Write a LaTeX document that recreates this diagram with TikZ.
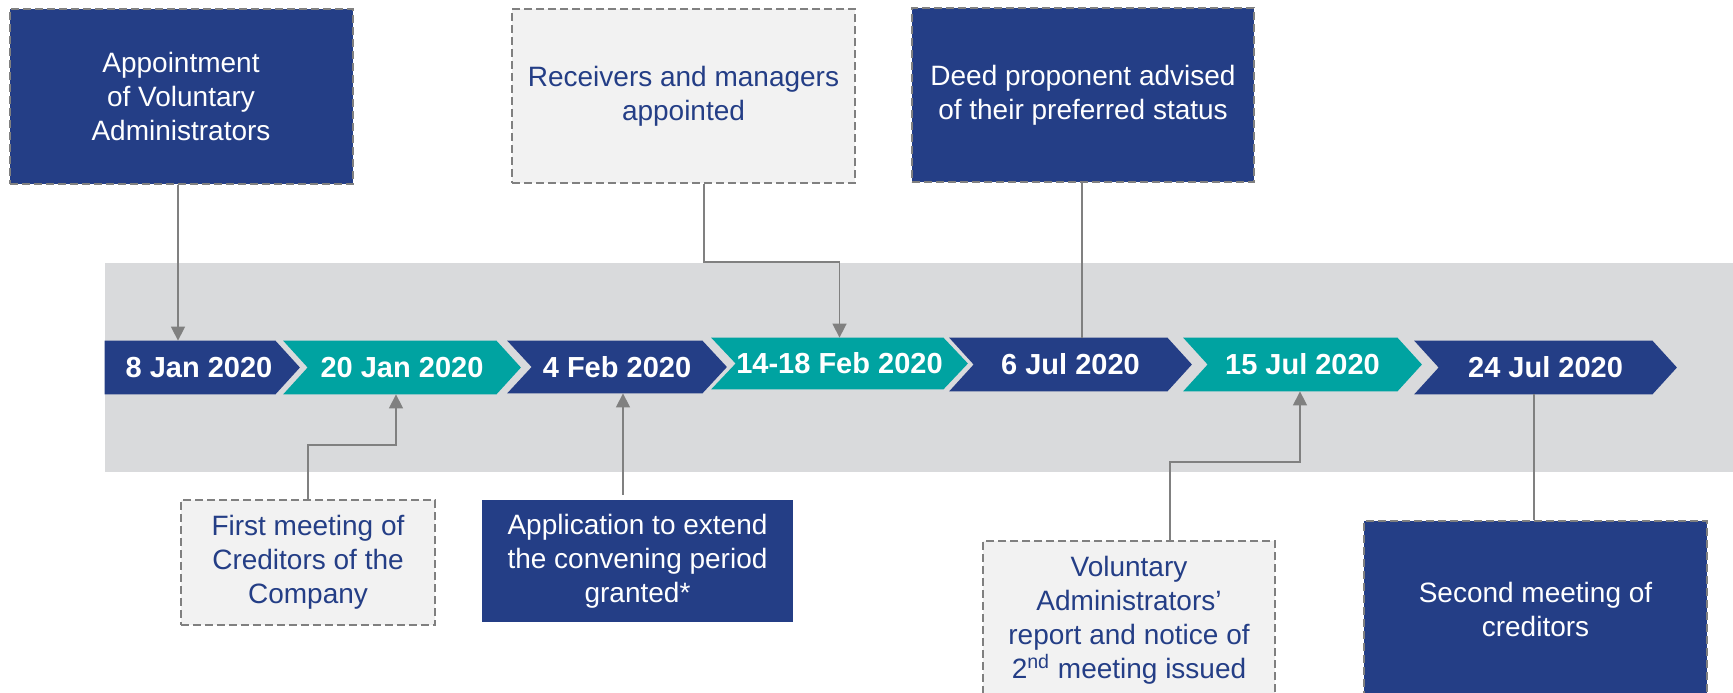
\documentclass[tikz,border=0pt]{standalone}
\usepackage{fontspec}
\setmainfont{Liberation Sans}
\usetikzlibrary{arrows.meta,calc,backgrounds}
\definecolor{navy}{RGB}{36,62,134}
\definecolor{kteal}{RGB}{0,163,161}
\definecolor{band}{RGB}{217,218,220}
\definecolor{lightbox}{RGB}{242,242,242}
\definecolor{edgegrey}{RGB}{128,128,128}
\begin{document}
\begin{tikzpicture}[x=0.5pt,y=-0.5pt,
  box/.style={rectangle, inner sep=0pt, align=center, font=\fontsize{14}{17}\selectfont},
  darkbox/.style={box, fill=navy, text=white},
  lightb/.style={box, fill=lightbox, text=navy},
  dashedge/.style={draw=edgegrey, line width=1pt, dash pattern=on 4pt off 2pt},
  datenode/.style={rectangle, inner sep=0pt, text=white, font=\fontsize{14.5}{17}\selectfont\bfseries},
  conn/.style={draw=edgegrey, line width=0.75pt},
  arr/.style={conn, -{Triangle[length=7pt,width=7pt]}},
]
\useasboundingbox (0,0) rectangle (1733,692);
\clip (0,0) rectangle (1733,692);

% date chevrons (text nodes; shapes drawn on background layer)
\node[datenode, minimum width=76pt,   minimum height=26.5pt]  (c1) at (199,367.5)   {8 Jan 2020};
\node[datenode, minimum width=94pt,   minimum height=26.5pt]  (c2) at (402,367.5)   {20 Jan 2020};
\node[datenode, minimum width=85pt,   minimum height=26pt]    (c3) at (617,367)     {4 Feb 2020};
\node[datenode, minimum width=103.5pt,minimum height=25.5pt]  (c4) at (839.5,363.5) {14-18 Feb 2020};
\node[datenode, minimum width=96.5pt, minimum height=26.5pt]  (c5) at (1070.5,364.5){6 Jul 2020};
\node[datenode, minimum width=94.5pt, minimum height=26.5pt]  (c6) at (1302.5,364.5){15 Jul 2020};
\node[datenode, minimum width=106.5pt,minimum height=26.5pt]  (c7) at (1545.5,367.5){24 Jul 2020};

\begin{pgfonlayer}{background}
  \fill[band] (105,263) rectangle (1733,472);
  \fill[navy] ($(c1.north west)+(-18,0)$) -- (c1.north east) -- ($(c1.east)+(24.5,0)$)
     -- (c1.south east) -- ($(c1.south west)+(-18,0)$) -- cycle;
  \foreach \n/\c in {c2/kteal,c3/navy,c4/kteal,c5/navy,c6/kteal,c7/navy}{
    \fill[\c] ($(\n.north west)+(-24.5,0)$) -- (\n.north east) -- ($(\n.east)+(24.5,0)$)
       -- (\n.south east) -- ($(\n.south west)+(-24.5,0)$) -- (\n.west) -- cycle;
  }
\end{pgfonlayer}

% event boxes
\node[darkbox, dashedge, minimum width=171.5pt, minimum height=87.5pt] (appt) at (181,96.5)
  {Appointment\\of Voluntary\\Administrators};
\node[lightb, dashedge, minimum width=171.5pt, minimum height=87pt] (recv) at (683.5,96)
  {Receivers and managers\\appointed};
\node[darkbox, dashedge, minimum width=171pt, minimum height=87pt] (deed) at (1083,95)
  {Deed proponent advised\\of their preferred status};
\node[lightb, dashedge, minimum width=127.25pt, minimum height=62.5pt] (first) at (308,562.5)
  {First meeting of\\Creditors of the\\Company};
\node[darkbox, minimum width=155.5pt, minimum height=61pt] (app) at (637.5,561)
  {Application to extend\\the convening period\\granted*};
\node[lightb, dashedge, minimum width=146pt, minimum height=79.5pt] (vol) at (1129,620.5)
  {Voluntary\\Administrators’\\report and notice of\\2\textsuperscript{nd} meeting issued};
\node[darkbox, dashedge, minimum width=171.5pt, minimum height=88pt] (second) at (1535.5,609)
  {Second meeting of\\creditors};

% connectors
\coordinate (a1) at ($(appt.south)+(-3,0)$);
\draw[arr] (a1) -- (a1 |- c1.north);

\coordinate (r1) at ($(recv.south)+(20.5,0)$);
\draw[arr] (r1) -- ++(0,78) -| (c4.north);

\coordinate (d1) at ($(deed.south)+(-1,0)$);
\draw[conn] (d1) -- (d1 |- c5.north);

\draw[arr] (first.north) -- ++(0,-54) -| ($(c2.south)+(-6,0)$);

\coordinate (p1) at ($(c3.south |- app.north)+(6,-5)$);
\draw[arr] (p1) -- (p1 |- c3.south);

\coordinate (v1) at ($(vol.north)+(41,0)$);
\draw[arr] (v1) -- ++(0,-78) -| ($(c6.south)+(-2.5,0)$);

\coordinate (s1) at ($(second.north)+(-1.5,0)$);
\draw[conn] (s1) -- (s1 |- c7.south);
\end{tikzpicture}
\end{document}
